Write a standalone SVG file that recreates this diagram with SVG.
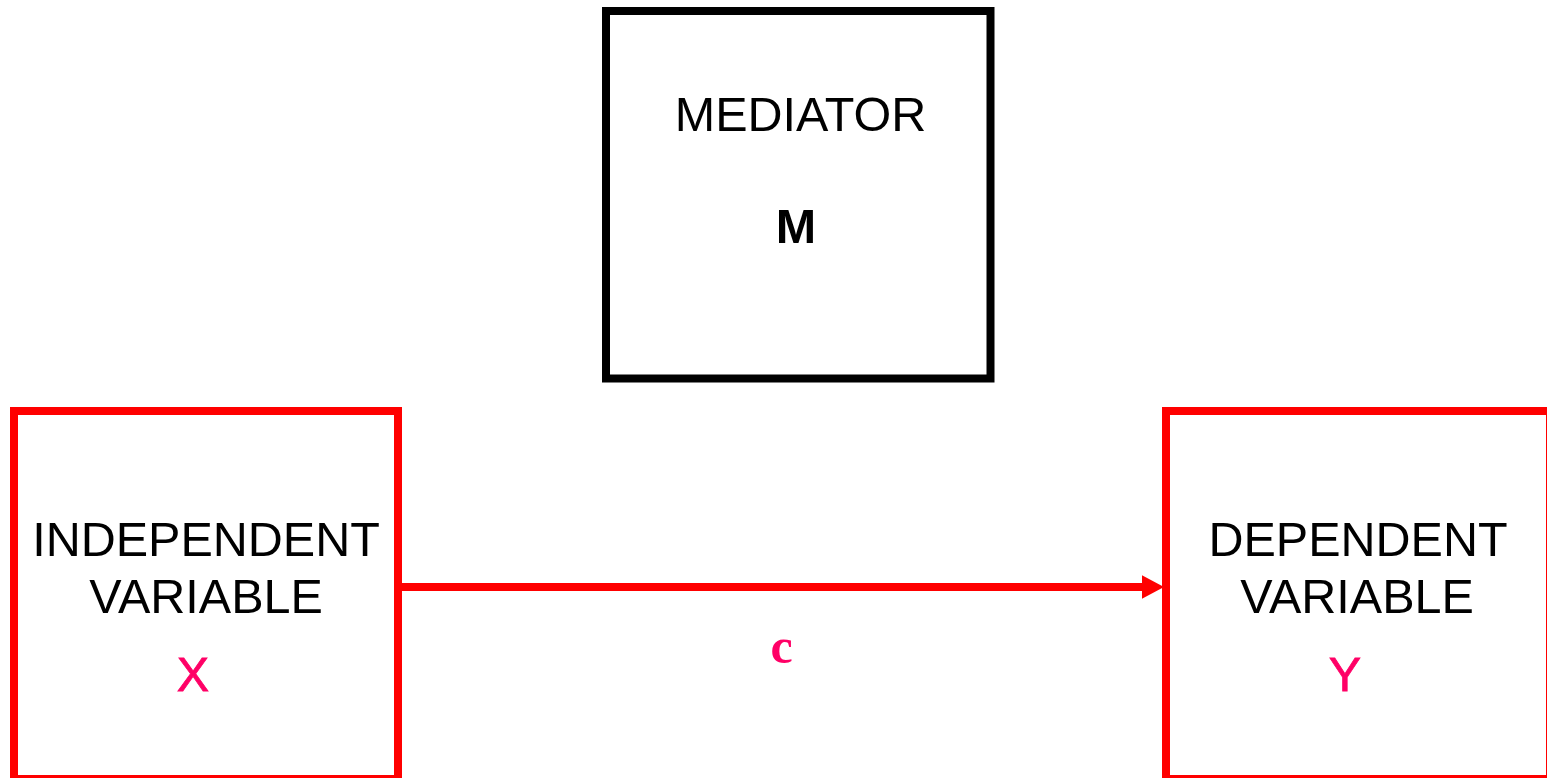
<svg xmlns="http://www.w3.org/2000/svg" width="1547" height="778" viewBox="0 0 1547 778">
<style>
.box{fill:#fff;stroke-width:8}
.red{stroke:#ff0000}
.blk{stroke:#000}
.lbl{font-family:"Liberation Sans",Arial,sans-serif;font-size:48.5px;fill:#000;text-anchor:middle}
.var{font-family:"Liberation Sans",Arial,sans-serif;font-size:48.5px;fill:#ff0066;stroke:#ff0066;stroke-width:0.8px;text-anchor:middle}
.c{font-family:"Liberation Serif","Times New Roman",serif;font-weight:bold;font-size:50px;fill:#ff0066;text-anchor:middle}
</style>
<defs>
<marker id="ah" markerUnits="userSpaceOnUse" markerWidth="24" markerHeight="24" refX="0" refY="12" orient="auto">
<path d="M0,0.3 L22,12 L0,23.7 Z" fill="#ff0000"/>
</marker>
</defs>
<rect width="1547" height="778" fill="#fff"/>
<g id="mediator">
<rect class="box blk" x="606" y="11" width="384.5" height="367.5"/>
<text class="lbl" x="800.5" y="131">MEDIATOR</text>
<text class="lbl" x="796" y="243" font-weight="bold">M</text>
</g>
<g id="independent">
<rect class="box red" x="14" y="411" width="384" height="368"/>
<text class="lbl" x="206" y="556">INDEPENDENT</text>
<text class="lbl" x="206" y="613">VARIABLE</text>
<text class="var" x="193" y="691">X</text>
</g>
<g id="dependent">
<rect class="box red" x="1166" y="411" width="384" height="368"/>
<text class="lbl" x="1358" y="556">DEPENDENT</text>
<text class="lbl" x="1357" y="613">VARIABLE</text>
<text class="var" x="1345" y="691">Y</text>
</g>
<g id="connectors">
<line x1="402" y1="587" x2="1142" y2="587" stroke="#ff0000" stroke-width="8" marker-end="url(#ah)"/>
<text class="c" x="781.5" y="663">c</text>
</g>
</svg>
